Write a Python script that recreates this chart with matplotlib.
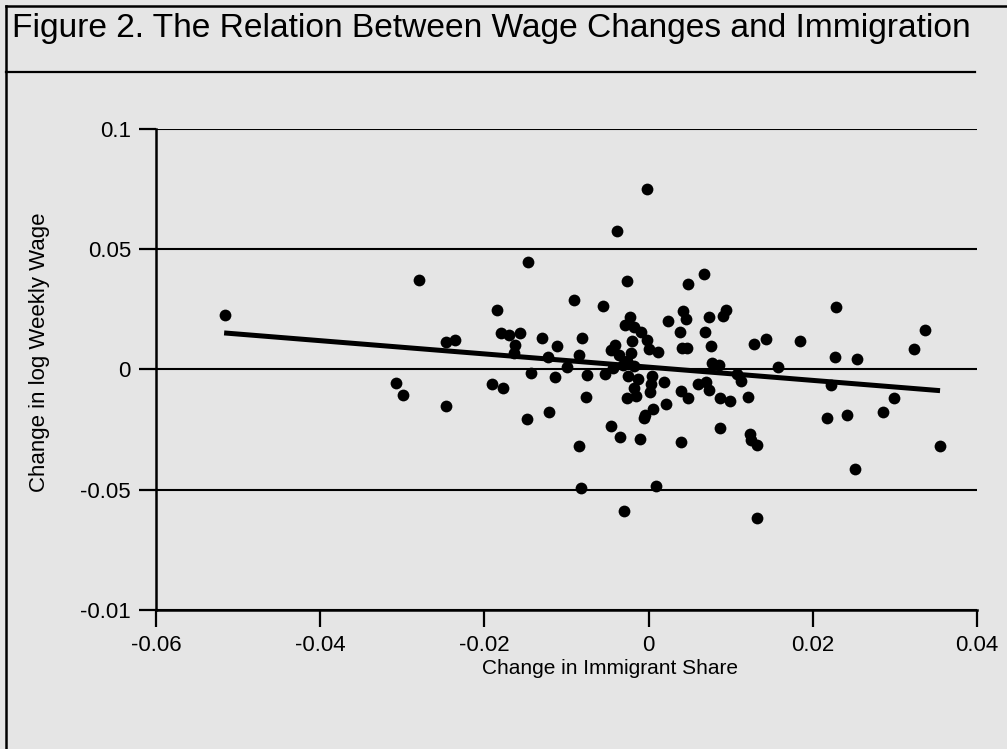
import matplotlib.pyplot as plt
from matplotlib.lines import Line2D

# Change in immigrant share (x) and change in log weekly wage (y), one point per cell
share_change = [
    -0.05164, -0.02793, -0.00024, -0.00386, -0.01470, -0.00259, 0.00670, 0.00479,
    -0.00914, -0.00557, -0.01848, -0.00228, -0.00289, -0.00179, -0.00094, -0.00016,
    -0.00199, -0.00406, -0.00463, -0.00365, -0.00219, -0.00259, -0.00435, 0.00009,
    0.00118, 0.00240, 0.00414, 0.00459, 0.00386, 0.00739, 0.00901, 0.00944,
    0.00686, 0.00402, 0.00463, 0.00755, 0.00767, 0.00856, -0.01797, -0.01702,
    -0.01568, -0.01632, -0.01638, -0.02469, -0.02359, -0.01295, -0.01121, -0.00810,
    -0.01222, -0.00847, -0.00993, -0.01437, -0.01141, -0.00747, -0.00536, -0.01912,
    -0.01775, -0.00767, -0.01480, -0.01214, -0.00247, -0.00130, 0.00040, 0.00033,
    0.00186, -0.00179, -0.00158, -0.00268, 0.00012, 0.00057, 0.00217, -0.00049,
    0.00390, 0.00481, 0.00597, 0.01279, 0.01429, 0.01839, 0.01571, 0.01072,
    0.01129, 0.00694, 0.00731, 0.00871, 0.00990, 0.01209, 0.02286, 0.02269,
    0.02542, 0.03231, 0.03365, 0.02217, 0.02984, 0.02850, 0.02415, 0.02177,
    0.00871, 0.01230, 0.01242, 0.01324, 0.03544, 0.02518, 0.01319, -0.02464,
    -0.03082, -0.02993, -0.00844, -0.00828, 0.00094, -0.00296, -0.00463, -0.00345,
    -0.00106, 0.00398, -0.00052, -0.00317, -0.00183,
]
wage_change = [
    0.02278, 0.03732, 0.07502, 0.05757, 0.04468, 0.03666, 0.03957, 0.03566,
    0.02901, 0.02627, 0.02461, 0.02182, 0.01862, 0.01754, 0.01538, 0.01239,
    0.01197, 0.01031, 0.00823, 0.00590, 0.00686, 0.00366, 0.00062, 0.00865,
    0.00740, 0.02028, 0.02452, 0.02111, 0.01546, 0.02170, 0.02224, 0.02473,
    0.01579, 0.00894, 0.00894, 0.00964, 0.00270, 0.00175, 0.01517, 0.01421,
    0.01517, 0.01018, 0.00677, 0.01143, 0.01214, 0.01301, 0.00977, 0.01322,
    0.00528, 0.00590, 0.00083, -0.00166, -0.00312, -0.00249, -0.00200, -0.00603,
    -0.00769, -0.01143, -0.02057, -0.01787, -0.00283, -0.00395, -0.00283, -0.00603,
    -0.00532, -0.00769, -0.01114, -0.01205, -0.00943, -0.01654, -0.01446, -0.01912,
    -0.00902, -0.01193, -0.00623, 0.01052, 0.01268, 0.01205, 0.00083, -0.00187,
    -0.00490, -0.00507, -0.00865, -0.01189, -0.01297, -0.01143, 0.02610, 0.00499,
    0.00436, 0.00865, 0.01629, -0.00632, -0.01172, -0.01779, -0.01891, -0.02028,
    -0.02419, -0.02668, -0.02918, -0.03126, -0.03167, -0.04136, -0.06172, -0.01517,
    -0.00561, -0.01047, -0.03167, -0.04925, -0.04830, -0.05881, -0.02361, -0.02805,
    -0.02876, -0.03013, -0.02016, 0.00187, 0.00145,
]

# Fitted regression line (end points)
fit_x = [-0.0517, 0.0355]
fit_y = [0.0152, -0.0088]

x_ticks = [-0.06, -0.04, -0.02, 0, 0.02, 0.04]
x_tick_labels = ['-0.06', '-0.04', '-0.02', '0', '0.02', '0.04']
y_ticks = [0.1, 0.05, 0, -0.05, -0.1]
y_tick_labels = ['0.1', '0.05', '0', '-0.05', '-0.01']

BG = '#e5e5e5'
plt.rcParams['font.family'] = ['Liberation Sans', 'DejaVu Sans']

fig = plt.figure(figsize=(10.07, 7.49), dpi=100, facecolor=BG)
ax = fig.add_axes([0.1549, 0.1856, 0.8153, 0.6422], facecolor=BG)

ax.scatter(share_change, wage_change, s=72, color='black', linewidths=0, zorder=3)
ax.plot(fit_x, fit_y, color='black', lw=3.6, solid_capstyle='butt', zorder=4)

ax.set_xlim(-0.06, 0.04)
ax.set_ylim(-0.1, 0.1)
ax.set_xticks(x_ticks)
ax.set_xticklabels(x_tick_labels)
ax.set_yticks(y_ticks)
ax.set_yticklabels(y_tick_labels)
ax.tick_params(axis='both', direction='out', length=12, width=1.6,
               labelsize=16, pad=6, color='black')
ax.grid(axis='y', color='black', lw=1.5, zorder=1)
ax.set_axisbelow(True)
for side in ['top', 'right']:
    ax.spines[side].set_visible(False)
for side in ['left', 'bottom']:
    ax.spines[side].set_linewidth(1.8)

# axis titles placed in figure pixels (origin top-left)
fig.text(610 / 1007, 1 - 668 / 749, 'Change in Immigrant Share',
         fontsize=15, ha='center', va='center')
fig.text(40 / 1007, 1 - 352 / 749, 'Change in log Weekly Wage',
         fontsize=16, ha='center', va='center', rotation=90)

# Title box: heading, rule under it, and the top/left frame edges
fig.text(12 / 1007, 1 - 29 / 749, 'Figure 2. The Relation Between Wage Changes and Immigration',
         fontsize=24.1, ha='left', va='center')
fig.add_artist(Line2D([6 / 1007, 975 / 1007], [1 - 72 / 749] * 2, color='black', lw=1.6))
fig.add_artist(Line2D([6 / 1007, 1.0], [1 - 6 / 749] * 2, color='black', lw=1.8))
fig.add_artist(Line2D([6 / 1007] * 2, [0, 1 - 6 / 749], color='black', lw=1.8))

fig.savefig('out.png', dpi=100, facecolor=BG)
